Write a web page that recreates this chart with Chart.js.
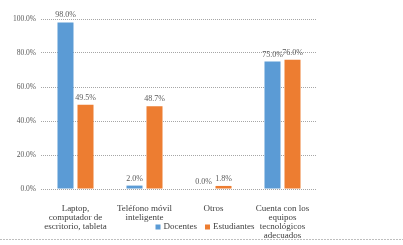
<!DOCTYPE html>
<html><head><meta charset="utf-8">
<script src="https://cdn.jsdelivr.net/npm/chart.js@4"></script>
<style>html,body{margin:0;padding:0;background:#fff}#wrap{width:403px;height:245px}</style>
</head><body><div id="wrap"><canvas id="c" width="403" height="245"></canvas></div>
<script>
const categories = [["Laptop,","computador de","escritorio, tableta"],["Teléfono móvil","inteligente"],["Otros"],["Cuenta con los","equipos","tecnológicos","adecuados"]];
const docentes = [98.0, 2.0, 0.0, 75.0];
const estudiantes = [49.5, 48.7, 1.8, 76.0];
const yTicks = [0, 20, 40, 60, 80, 100];
const seriesNames = ["Docentes", "Estudiantes"];
const seriesColors = ['#5B9BD5', '#ED7D31'];

const FONT = "'Liberation Serif', 'DejaVu Serif', serif";

const valueLabels = {
  id: 'valueLabels',
  afterDatasetsDraw(chart) {
    const ctx = chart.ctx;
    ctx.save();
    ctx.font = "8px " + FONT;
    ctx.fillStyle = "#595959";
    ctx.textAlign = "center";
    ctx.textBaseline = "bottom";
    chart.data.datasets.forEach((ds, i) => {
      chart.getDatasetMeta(i).data.forEach((bar, j) => {
        ctx.fillText(ds.data[j].toFixed(1) + "%", bar.x, bar.y - 3);
      });
    });
    ctx.restore();
  }
};
const legendAndBorder = {
  id: 'legendAndBorder',
  afterDraw(chart) {
    const ctx = chart.ctx;
    ctx.save();
    ctx.font = "9px " + FONT;
    ctx.textBaseline = "middle";
    ctx.textAlign = "left";
    const box = 5, gap = 3, sep = 8;
    const items = chart.data.datasets.map(ds => ({ text: ds.label, color: ds.backgroundColor, w: box + gap + ctx.measureText(ds.label).width }));
    const total = items.reduce((a, it) => a + it.w, 0) + sep * (items.length - 1);
    let x = 205 - total / 2;
    const y = 227;
    items.forEach(it => {
      ctx.fillStyle = it.color;
      ctx.fillRect(x, y - box / 2, box, box);
      ctx.fillStyle = '#404040';
      ctx.fillText(it.text, x + box + gap, y);
      x += it.w + sep;
    });
    ctx.strokeStyle = "#bfbfbf";
    ctx.setLineDash([2, 1]);
    ctx.lineWidth = 1;
    ctx.beginPath();
    ctx.moveTo(0, 239.5);
    ctx.lineTo(403, 239.5);
    ctx.stroke();
    ctx.restore();
  }
};

new Chart(document.getElementById('c'), {
  type: 'bar',
  data: {
    labels: categories,
    datasets: [
      { label: seriesNames[0], data: docentes, backgroundColor: seriesColors[0], categoryPercentage: 0.58, barPercentage: 0.8 },
      { label: seriesNames[1], data: estudiantes, backgroundColor: seriesColors[1], categoryPercentage: 0.58, barPercentage: 0.8 }
    ]
  },
  options: {
    responsive: false,
    animation: false,
    devicePixelRatio: 1,
    layout: { padding: { left: 0, right: 86, top: 19, bottom: 0 } },
    plugins: {
      tooltip: { enabled: false },
      legend: { display: false }
    },
    scales: {
      x: {
        grid: { display: false },
        border: { display: false },
        ticks: { font: { family: FONT, size: 9, lineHeight: 1.0 }, color: '#404040', maxRotation: 0, autoSkip: false, padding: 7 },
        afterFit(s) { s.height = 56; }
      },
      y: {
        min: 0, max: 100,
        afterBuildTicks(s) { s.ticks = yTicks.map(v => ({ value: v })); },
        afterFit(s) { s.width = 41; },
        grid: { color: '#a6a6a6', drawTicks: false, lineWidth: 1, borderDash: [1, 1] },
        border: { display: false, dash: [1, 1] },
        ticks: { font: { family: FONT, size: 7.5 }, color: '#595959', padding: 5, callback: v => v.toFixed(1) + '%' }
      }
    }
  },
  plugins: [valueLabels, legendAndBorder]
});
</script></body></html>
